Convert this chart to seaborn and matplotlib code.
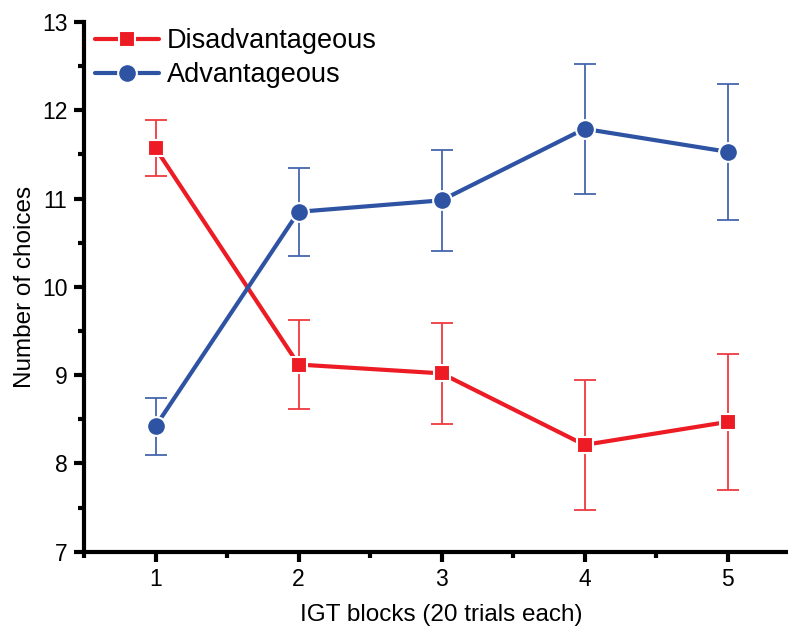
import numpy as np
import pandas as pd
import matplotlib
matplotlib.use('Agg')
import matplotlib.pyplot as plt
import seaborn as sns
from matplotlib.lines import Line2D
from matplotlib.ticker import MultipleLocator

sns.set_style("ticks")
plt.rcParams['font.family'] = ['Liberation Sans', 'DejaVu Sans']
plt.rcParams['text.color'] = 'black'
plt.rcParams['axes.labelcolor'] = 'black'
plt.rcParams['xtick.color'] = 'black'
plt.rcParams['ytick.color'] = 'black'

blocks = [1, 2, 3, 4, 5]
disadv_mean = [11.57, 9.12, 9.02, 8.21, 8.47]
disadv_err = [0.32, 0.50, 0.575, 0.735, 0.77]
adv_mean = [8.42, 10.85, 10.98, 11.79, 11.53]
adv_err = [0.32, 0.50, 0.57, 0.735, 0.77]

series = ["Disadvantageous", "Advantageous"]
colors = {"Disadvantageous": "#ED1C24", "Advantageous": "#2E53A3"}
err_colors = {"Disadvantageous": "#EE3A40", "Advantageous": "#4566AD"}
markers = {"Disadvantageous": "s", "Advantageous": "o"}
msize = {"s": 11.5, "o": 13.5}

df = pd.DataFrame({
    "block": blocks * 2,
    "choices": disadv_mean + adv_mean,
    "err": disadv_err + adv_err,
    "series": [series[0]] * 5 + [series[1]] * 5,
})

fig = plt.figure(figsize=(7.88, 6.26), dpi=100)
ax = fig.add_axes([84 / 788, 74.3 / 626, 715 / 788, 529.7 / 626])

for name in series:
    sub = df[df.series == name]
    ax.errorbar(sub.block, sub.choices, yerr=sub.err, fmt='none', ecolor=err_colors[name],
                elinewidth=1.3, capsize=8, capthick=1.3, zorder=2)

sns.lineplot(data=df, x="block", y="choices", hue="series", style="series",
             palette=colors, markers=markers, dashes=False, linewidth=3,
             markersize=12, markeredgecolor='white', markeredgewidth=1.5,
             legend=False, ax=ax, zorder=3)
for line in ax.get_lines():
    if line.get_marker() in msize:
        line.set_markersize(msize[line.get_marker()])

ax.set_xlim(0.5, 5.5)
ax.set_ylim(7, 13)
ax.xaxis.set_major_locator(MultipleLocator(1))
ax.xaxis.set_minor_locator(MultipleLocator(0.5))
ax.yaxis.set_major_locator(MultipleLocator(1))
ax.yaxis.set_minor_locator(MultipleLocator(0.5))

for side in ['top', 'right']:
    ax.spines[side].set_visible(False)
for side in ['left', 'bottom']:
    ax.spines[side].set_linewidth(3)
    ax.spines[side].set_color('black')
ax.tick_params(which='major', direction='out', length=7, width=3, labelsize=16.5, pad=5,
               color='black', labelcolor='black')
ax.tick_params(which='minor', direction='out', length=4, width=3, color='black')

ax.set_xlabel("IGT blocks (20 trials each)", fontsize=17.5, labelpad=9, color='black')
ax.set_ylabel("Number of choices", fontsize=17.5, labelpad=4, color='black')

handles = [Line2D([], [], color=colors[n], marker=markers[n], linewidth=3,
                  markersize=msize[markers[n]],
                  markeredgecolor='white', markeredgewidth=1.5) for n in series]
leg = ax.legend(handles, series, loc='upper left', bbox_to_anchor=(-0.011, 1.024), frameon=False,
                fontsize=19.5, handlelength=2.35, handletextpad=0.3, labelspacing=0.3,
                borderaxespad=0.3)
for t in leg.get_texts():
    t.set_color('black')

fig.savefig("out.png", dpi=100)
